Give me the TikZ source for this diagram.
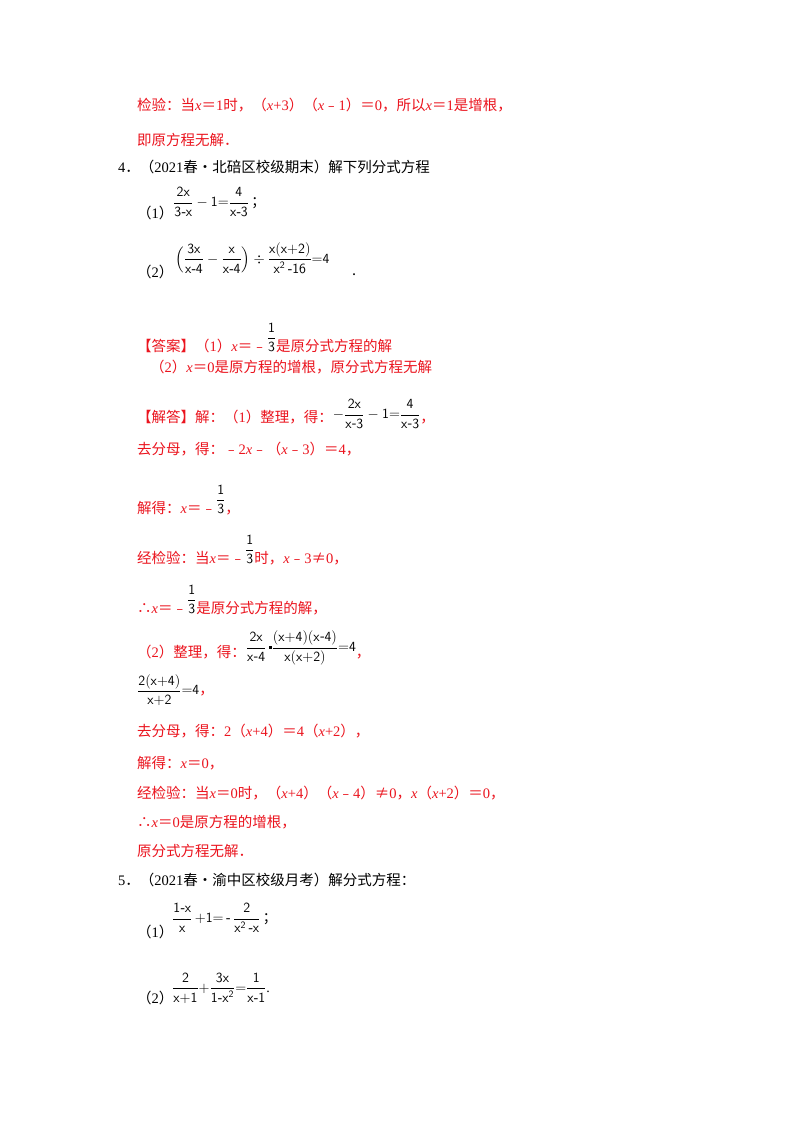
\documentclass[tikz,border=0pt]{standalone}
\usepackage{fontspec}
\setmainfont{Liberation Serif}
\newfontfamily\cjk{Noto Sans CJK SC}
\usepackage{amsmath}
\definecolor{ans}{RGB}{235,20,30}
\newcommand\X{{\rmfamily\itshape x}}
\newcommand\N[1]{{\rmfamily #1}}
\newcommand\third{\raisebox{10pt}{\textcolor{black}{\fontsize{14}{16}\selectfont$\dfrac{\mathsf 1}{\mathsf 3}$}}}
\begin{document}
\begin{tikzpicture}[x=1pt,y=-1pt,
  t/.style={anchor=west,inner sep=0pt,font=\fontsize{14.5}{16}\selectfont\cjk},
  r/.style={t,text=ans},
  m/.style={anchor=west,inner sep=0pt,font=\fontsize{14}{16}\selectfont}]
\useasboundingbox[fill=white] (0,0) rectangle (800,1132);
\node[r] (l1) at (137,105) {检验：当\X＝\N{1}时，（\X\N{+3}）（\X﹣\N{1}）＝\N{0}，所以\X＝\N{1}是增根，};
\node[r] (l2) at (137,140) {即原方程无解．};
\node[t] (q4) at (118,167) {\N{4}．（\N{2021}春•北碚区校级期末）解下列分式方程};
\node[t] (q41) at (137,213) {（\N{1}）};
\node[m] (q41m) at (173,202) {$\dfrac{\mathsf{2x}}{\mathsf{3\text{-}x}}-\mathsf{1}{=}\dfrac{\mathsf{4}}{\mathsf{x\text{-}3}}$\,{\cjk；}};
\node[t] (q42) at (137,272) {（\N{2}）};
\node[m] (q42m) at (175,258) {$\Bigl(\dfrac{\mathsf{3x}}{\mathsf{x\text{-}4}}-\dfrac{\mathsf{x}}{\mathsf{x\text{-}4}}\Bigr)\div\dfrac{\mathsf{x(x{+}2)}}{\mathsf{x^{2}\,\text{-}16}}{=}\mathsf{4}$};
\node[t] (dot1) at (352,275) {.};
\node[r] (a1) at (137,338) {【答案】（\N{1}）\X＝﹣\third 是原分式方程的解};
\node[r] (a2) at (150,367) {（\N{2}）\X＝\N{0}是原方程的增根，原分式方程无解};
\node[r] (s1) at (137,414) {【解答】解：（\N{1}）整理，得：\raisebox{4pt}{\textcolor{black}{\fontsize{14}{16}\selectfont$-\dfrac{\mathsf{2x}}{\mathsf{x\text{-}3}}-\mathsf{1}{=}\dfrac{\mathsf{4}}{\mathsf{x\text{-}3}}$}}，};
\node[r] (s2) at (137,449) {去分母，得：﹣\N{2}\X﹣（\X﹣\N{3}）＝\N{4}，};
\node[r] (s3) at (137,500) {解得：\X＝﹣\third，};
\node[r] (s4) at (137,550) {经检验：当\X＝﹣\third 时，\X﹣\N{3}≠\N{0}，};
\node[r] (s5) at (137,600) {∴\X＝﹣\third 是原分式方程的解，};
\node[r] (s6) at (137,648) {（\N{2}）整理，得：\raisebox{6pt}{\textcolor{black}{\fontsize{14}{16}\selectfont$\dfrac{\mathsf{2x}}{\mathsf{x\text{-}4}}\,\raisebox{3pt}{\rule{3pt}{3pt}}\dfrac{\mathsf{(x{+}4)(x\text{-}4)}}{\mathsf{x(x{+}2)}}{=}\mathsf{4}$}}，};
\node[r] (s7) at (137,690) {\textcolor{black}{\fontsize{14}{16}\selectfont$\dfrac{\mathsf{2(x{+}4)}}{\mathsf{x{+}2}}{=}\mathsf{4}$}，};
\node[r] (s8) at (137,731) {去分母，得：\N{2}（\X\N{+4}）＝\N{4}（\X\N{+2}），};
\node[r] (s9) at (137,763) {解得：\X＝\N{0}，};
\node[r] (s10) at (137,793) {经检验：当\X＝\N{0}时，（\X\N{+4}）（\X﹣\N{4}）≠\N{0}，\X（\X\N{+2}）＝\N{0}，};
\node[r] (s11) at (137,822) {∴\X＝\N{0}是原方程的增根，};
\node[r] (s12) at (137,851) {原分式方程无解．};
\node[t] (q5) at (118,880) {\N{5}．（\N{2021}春•渝中区校级月考）解分式方程：};
\node[t] (q51) at (137,932) {（\N{1}）};
\node[m] (q51m) at (172,918) {$\dfrac{\mathsf{1\text{-}x}}{\mathsf{x}}\,\mathsf{{+}1}{=}\,\text{-}\,\dfrac{\mathsf{2}}{\mathsf{x^{2}\,\text{-}x}}$\,{\cjk；}};
\node[t] (q52) at (137,998) {（\N{2}）};
\node[m] (q52m) at (172,988) {$\dfrac{\mathsf{2}}{\mathsf{x{+}1}}{+}\dfrac{\mathsf{3x}}{\mathsf{1\text{-}x^{2}}}{=}\dfrac{\mathsf{1}}{\mathsf{x\text{-}1}}$.};
\end{tikzpicture}
\end{document}
